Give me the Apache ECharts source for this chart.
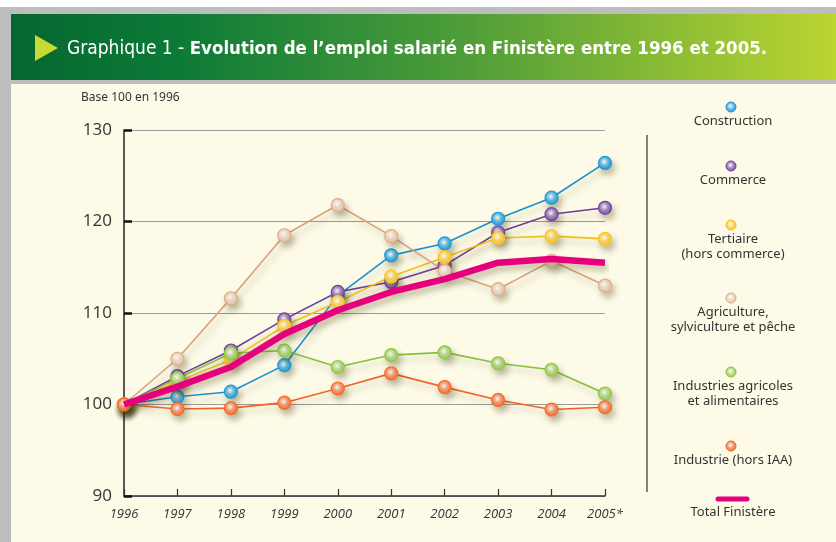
<!DOCTYPE html>
<html>
<head>
<meta charset="utf-8">
<title>Graphique 1 - Emploi salarié Finistère</title>
<script src="https://cdn.jsdelivr.net/npm/echarts@6/dist/echarts.min.js"></script>
<style>
html,body{margin:0;padding:0;background:#fff;}
#chart{width:836px;height:542px;}
</style>
</head>
<body>
<div id="chart"></div>
<script>
//données (base 100 en 1996)
var annees = ['1996','1997','1998','1999','2000','2001','2002','2003','2004','2005*'];
var construction = [100, 100.85, 101.4, 104.3, 111.9, 116.3, 117.6, 120.3, 122.6, 126.4];
var commerce = [100, 103.1, 105.9, 109.3, 112.3, 113.4, 115.2, 118.8, 120.8, 121.5];
var tertiaire = [100, 102.5, 104.9, 108.6, 111.2, 114.0, 116.1, 118.2, 118.4, 118.1];
var agriculture = [100, 105.0, 111.6, 118.5, 121.8, 118.4, 114.6, 112.6, 115.7, 113.0];
var industriesAgricoles = [100, 102.85, 105.6, 105.9, 104.1, 105.4, 105.7, 104.5, 103.8, 101.2];
var industrie = [100, 99.5, 99.6, 100.2, 101.75, 103.4, 101.9, 100.5, 99.45, 99.7];
var totalFinistere = [100, 101.95, 104.1, 107.7, 110.3, 112.3, 113.7, 115.5, 115.9, 115.5];
var yMin = 90, yMax = 130, yPas = 10;

var noms = ['Construction', 'Commerce', 'Tertiaire\n(hors commerce)', 'Agriculture,\nsylviculture et pêche', 'Industries agricoles\net alimentaires', 'Industrie (hors IAA)'];
var donnees = [construction, commerce, tertiaire, agriculture, industriesAgricoles, industrie];
var couleursLigne = ['#1793d1', '#6d3f96', '#f6bd16', '#d7a47c', '#86c03c', '#f26425'];
var couleursPoint = ['#1a9ad8', '#7a4ea3', '#f9c623', '#ecc9ae', '#98cc55', '#f36b2c'];
var legendeY = [107, 166, 225, 298, 372, 446];

//point "brillant"
function pointCouleur(c) {
	return {
		type: 'radial', x: 0.45, y: 0.42, r: 0.6,
		colorStops: [
			{offset: 0, color: '#ffffff'},
			{offset: 0.45, color: echarts.color.lift(c, 0.35)},
			{offset: 1, color: c}
		]
	};
}

var myChart = echarts.init(document.getElementById('chart'));

var series = [];
for (var i = 0; i < donnees.length; i++) {
	series.push({
		name: noms[i],
		type: 'line',
		data: donnees[i],
		symbol: 'circle',
		symbolSize: 13,
		z: 2,
		lineStyle: {
			color: couleursLigne[i], width: 1.6,
			shadowColor: 'rgba(60,50,0,0.28)', shadowBlur: 6, shadowOffsetX: 3, shadowOffsetY: 5
		},
		itemStyle: {
			color: pointCouleur(couleursPoint[i]),
			borderColor: echarts.color.lift(couleursLigne[i], -0.05),
			borderWidth: 1.2,
			shadowColor: 'rgba(60,50,0,0.3)', shadowBlur: 6, shadowOffsetX: 3, shadowOffsetY: 5
		}
	});
}
series.push({
	name: 'Total Finistère',
	type: 'line',
	data: totalFinistere,
	symbol: 'none',
	z: 3,
	lineStyle: {
		color: '#e6007e', width: 6.5,
		shadowColor: 'rgba(60,50,0,0.3)', shadowBlur: 6, shadowOffsetX: 3, shadowOffsetY: 5
	}
});

//légende à droite (pastille au-dessus du texte)
var legende = [
	{type: 'line', shape: {x1: 647, y1: 135, x2: 647, y2: 492}, style: {stroke: '#333', lineWidth: 1.2}}
];
for (var j = 0; j < noms.length; j++) {
	legende.push({
		type: 'circle', shape: {cx: 731, cy: legendeY[j], r: 5},
		style: {fill: pointCouleur(couleursPoint[j]), stroke: couleursLigne[j], lineWidth: 1}
	});
	legende.push({
		type: 'text', x: 733, y: legendeY[j] + 7,
		style: {
			text: noms[j], fill: '#333', font: '13px "Noto Sans"', lineHeight: 15,
			align: 'center', verticalAlign: 'top'
		}
	});
}
legende.push({type: 'line', shape: {x1: 718, y1: 499, x2: 747, y2: 499}, style: {stroke: '#e6007e', lineWidth: 5, lineCap: 'round'}});
legende.push({type: 'text', x: 733, y: 506, style: {text: 'Total Finistère', fill: '#333', font: '13px "Noto Sans"', align: 'center', verticalAlign: 'top'}});

var option = {
	backgroundColor: '#fdfbe7',
	animation: false,
	title: {
		left: 62,
		top: 35,
		text: '{a|Graphique 1 - }{b|Evolution de l’emploi salarié en Finistère entre 1996 et 2005.}',
		textStyle: {
			rich: {
				a: {color: '#fff', fontSize: 19, fontFamily: 'DejaVu Sans Condensed', fontWeight: 'normal'},
				b: {color: '#fff', fontSize: 18.5, fontFamily: 'DejaVu Sans Condensed', fontWeight: 'bold'}
			}
		}
	},
	grid: {left: 124, right: 231, top: 130, bottom: 46},
	xAxis: {
		type: 'category',
		data: annees,
		boundaryGap: false,
		axisLine: {lineStyle: {color: '#333', width: 1.5}},
		axisTick: {inside: true, length: 7, lineStyle: {color: '#333', width: 1.2}},
		axisLabel: {color: '#333', fontSize: 13, fontStyle: 'italic', fontFamily: 'Open Sans', margin: 12},
		splitLine: {show: false}
	},
	yAxis: {
		type: 'value',
		min: yMin, max: yMax, interval: yPas,
		axisLine: {show: true, lineStyle: {color: '#222', width: 1.5}},
		axisTick: {show: true, inside: true, length: 8, lineStyle: {color: '#111', width: 2.5}},
		axisLabel: {color: '#333', fontSize: 17, fontFamily: 'Open Sans', margin: 12},
		splitLine: {lineStyle: {color: '#9c9c9c', width: 1}}
	},
	graphic: [
		{type: 'rect', z: -10, shape: {x: 0, y: 7, width: 836, height: 7}, style: {fill: '#bdbdbd'}},
		{type: 'rect', z: -10, shape: {x: 0, y: 7, width: 11, height: 535}, style: {fill: '#bdbdbd'}},
		{type: 'rect', z: -10, shape: {x: 11, y: 80, width: 825, height: 4}, style: {fill: '#bdbdbd'}},
		{type: 'rect', z: -10, shape: {x: 0, y: 0, width: 836, height: 7}, style: {fill: '#ffffff'}},
		{
			type: 'rect', z: -9, shape: {x: 11, y: 14, width: 825, height: 66},
			style: {
				fill: {
					type: 'linear', x: 0, y: 0, x2: 1, y2: 0,
					colorStops: [
						{offset: 0, color: '#05672f'},
						{offset: 0.2, color: '#0c7a37'},
						{offset: 0.55, color: '#4f9d39'},
						{offset: 1, color: '#bcd531'}
					]
				}
			}
		},
		{type: 'polygon', z: -8, shape: {points: [[35, 35], [35, 61], [58, 48]]}, style: {fill: '#c4da36'}},
		{type: 'text', x: 81, y: 92, style: {text: 'Base 100 en 1996', fill: '#333', font: '12px "Noto Sans"'}}
	].concat(legende),
	series: series
};

myChart.setOption(option);
</script>
</body>
</html>
